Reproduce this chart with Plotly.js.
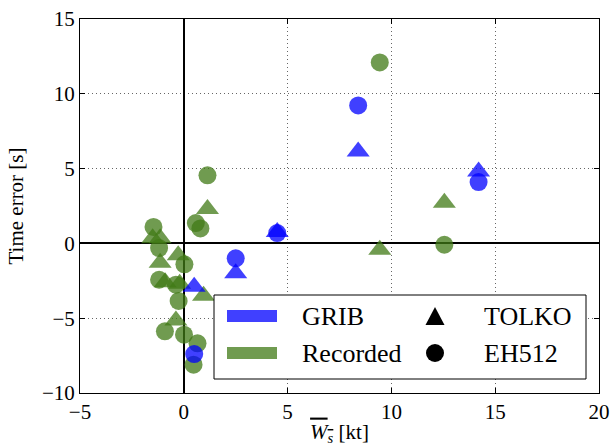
<!DOCTYPE html>
<html>
<head>
<meta charset="utf-8">
<script src="https://cdn.plot.ly/plotly-3.0.1.min.js"></script>
<style>
body{margin:0;padding:0;background:#fff;}
#chart{width:610px;height:446px;}
#chart text, #chart tspan { font-family: "Liberation Serif", serif !important; }
</style>
</head>
<body>
<div id="chart"></div>
<script>
// ---- data ----
var gribTolkoX = [0.5, 2.5, 4.5, 8.4, 14.2];
var gribTolkoY = [-2.9, -2.0, 0.76, 6.15, 4.8];
var gribEhX = [0.5, 2.5, 4.5, 8.4, 14.2];
var gribEhY = [-7.4, -1.0, 0.69, 9.22, 4.1];
var recTolkoX = [-1.5, -1.14, -0.27, -1.14, -0.9, -0.2, 0.95, -0.38, 1.14, 9.44, 12.55];
var recTolkoY = [0.35, 0.35, -0.8, -1.3, -2.6, -2.7, -3.5, -5.15, 2.3, -0.42, 2.72];
var recEhX = [-1.46, -1.19, 0.03, -1.19, -0.38, -0.25, -0.91, 0.01, 0.66, 0.47, 1.14, 0.58, 0.8, 9.44, 12.55];
var recEhY = [1.1, -0.31, -1.4, -2.43, -2.76, -3.85, -5.88, -6.1, -6.68, -8.11, 4.55, 1.36, 1.0, 12.1, -0.09];
var legendSources = ["GRIB", "Recorded"];
var legendSensors = ["TOLKO", "EH512"];
var xTicks = [-5, 0, 5, 10, 15, 20];
var yTicks = [-10, -5, 0, 5, 10, 15];

var BLUE = "rgba(0,0,255,0.75)";
var GREEN = "rgba(64,122,22,0.75)";
var FONT = "Liberation Serif";

function tri(x, y, c) {
  return {x: x, y: y, type: "scatter", mode: "markers", showlegend: false, hoverinfo: "none",
    marker: {symbol: "triangle-up", size: 20, color: c, line: {width: 0}}};
}
function circ(x, y, c) {
  return {x: x, y: y, type: "scatter", mode: "markers", showlegend: false, hoverinfo: "none",
    marker: {symbol: "circle", size: 18, color: c, line: {width: 0}}};
}
var data = [
  tri(recTolkoX, recTolkoY, GREEN),
  circ(recEhX, recEhY, GREEN),
  tri(gribTolkoX, gribTolkoY, BLUE),
  circ(gribEhX, gribEhY, BLUE)
];

// plot area pixel geometry
var L = 80, R = 599, T = 19, B = 393;
function px(x) { return (x - L) / (R - L); }
function py(y) { return (B - y) / (B - T); }

var shapes = [];
var ann = [];
// legend frame
shapes.push({type: "rect", xref: "paper", yref: "paper", x0: px(214), x1: px(586), y0: py(379), y1: py(295),
  line: {color: "black", width: 1}, fillcolor: "white", layer: "above"});
var rowsY = [316, 353];
var barCols = ["rgba(64,64,255,1)", "rgb(112,155,80)"];
for (var i = 0; i < 2; i++) {
  shapes.push({type: "rect", xref: "paper", yref: "paper", x0: px(227), x1: px(277), y0: py(rowsY[i] + 6), y1: py(rowsY[i] - 6),
    line: {width: 0}, fillcolor: barCols[i], layer: "above"});
  ann.push({xref: "paper", yref: "paper", x: px(300), y: py(rowsY[i]), xanchor: "left", yanchor: "middle",
    text: legendSources[i], showarrow: false, font: {family: FONT, size: 26, color: "black"}});
  ann.push({xref: "paper", yref: "paper", x: px(482), y: py(rowsY[i]), xanchor: "left", yanchor: "middle",
    text: legendSensors[i], showarrow: false, font: {family: FONT, size: 26, color: "black"}});
}
// legend marker glyphs
var tx = 435, ty = 316;
shapes.push({type: "path", xref: "paper", yref: "paper", layer: "above", fillcolor: "black", line: {width: 0},
  path: "M " + px(tx - 9.5) + " " + py(ty + 9) + " L " + px(tx + 9.5) + " " + py(ty + 9) + " L " + px(tx) + " " + py(ty - 9) + " Z"});
shapes.push({type: "circle", xref: "paper", yref: "paper", layer: "above", fillcolor: "black", line: {width: 0},
  x0: px(tx - 9), x1: px(tx + 9), y0: py(353 + 9), y1: py(353 - 9)});

var axisCommon = {
  showline: true, mirror: "allticks", linecolor: "black", linewidth: 1,
  ticks: "inside", ticklen: 5, tickcolor: "black", tickwidth: 1,
  showgrid: true, gridcolor: "rgba(0,0,0,0.6)", griddash: "1px,3px", gridwidth: 1,
  zeroline: true, zerolinecolor: "black", zerolinewidth: 2,
  tickfont: {family: FONT, size: 21, color: "black"},
  tickmode: "array", fixedrange: true
};
var layout = {
  width: 610, height: 446,
  margin: {l: L, r: 610 - R, t: T, b: 446 - B},
  paper_bgcolor: "white", plot_bgcolor: "white",
  showlegend: false,
  font: {family: FONT, color: "black"},
  xaxis: Object.assign({}, axisCommon, {range: [-5, 20], tickvals: xTicks,
    ticktext: xTicks.map(function (v) { return v < 0 ? "\u2212" + (-v) : String(v); }),
    title: {text: '<span style="text-decoration:overline"><i>W</i><sub><i>s</i></sub></span> [kt]', font: {family: FONT, size: 21, color: "black"}, standoff: 4}}),
  yaxis: Object.assign({}, axisCommon, {range: [-10, 15], tickvals: yTicks,
    ticktext: yTicks.map(function (v) { return v < 0 ? "\u2212" + (-v) : String(v); }),
    title: {text: "Time error [s]", font: {family: FONT, size: 21, color: "black"}, standoff: 12}}),
  shapes: shapes,
  annotations: ann
};
Plotly.newPlot("chart", data, layout, {staticPlot: true, displayModeBar: false});
</script>
</body>
</html>
